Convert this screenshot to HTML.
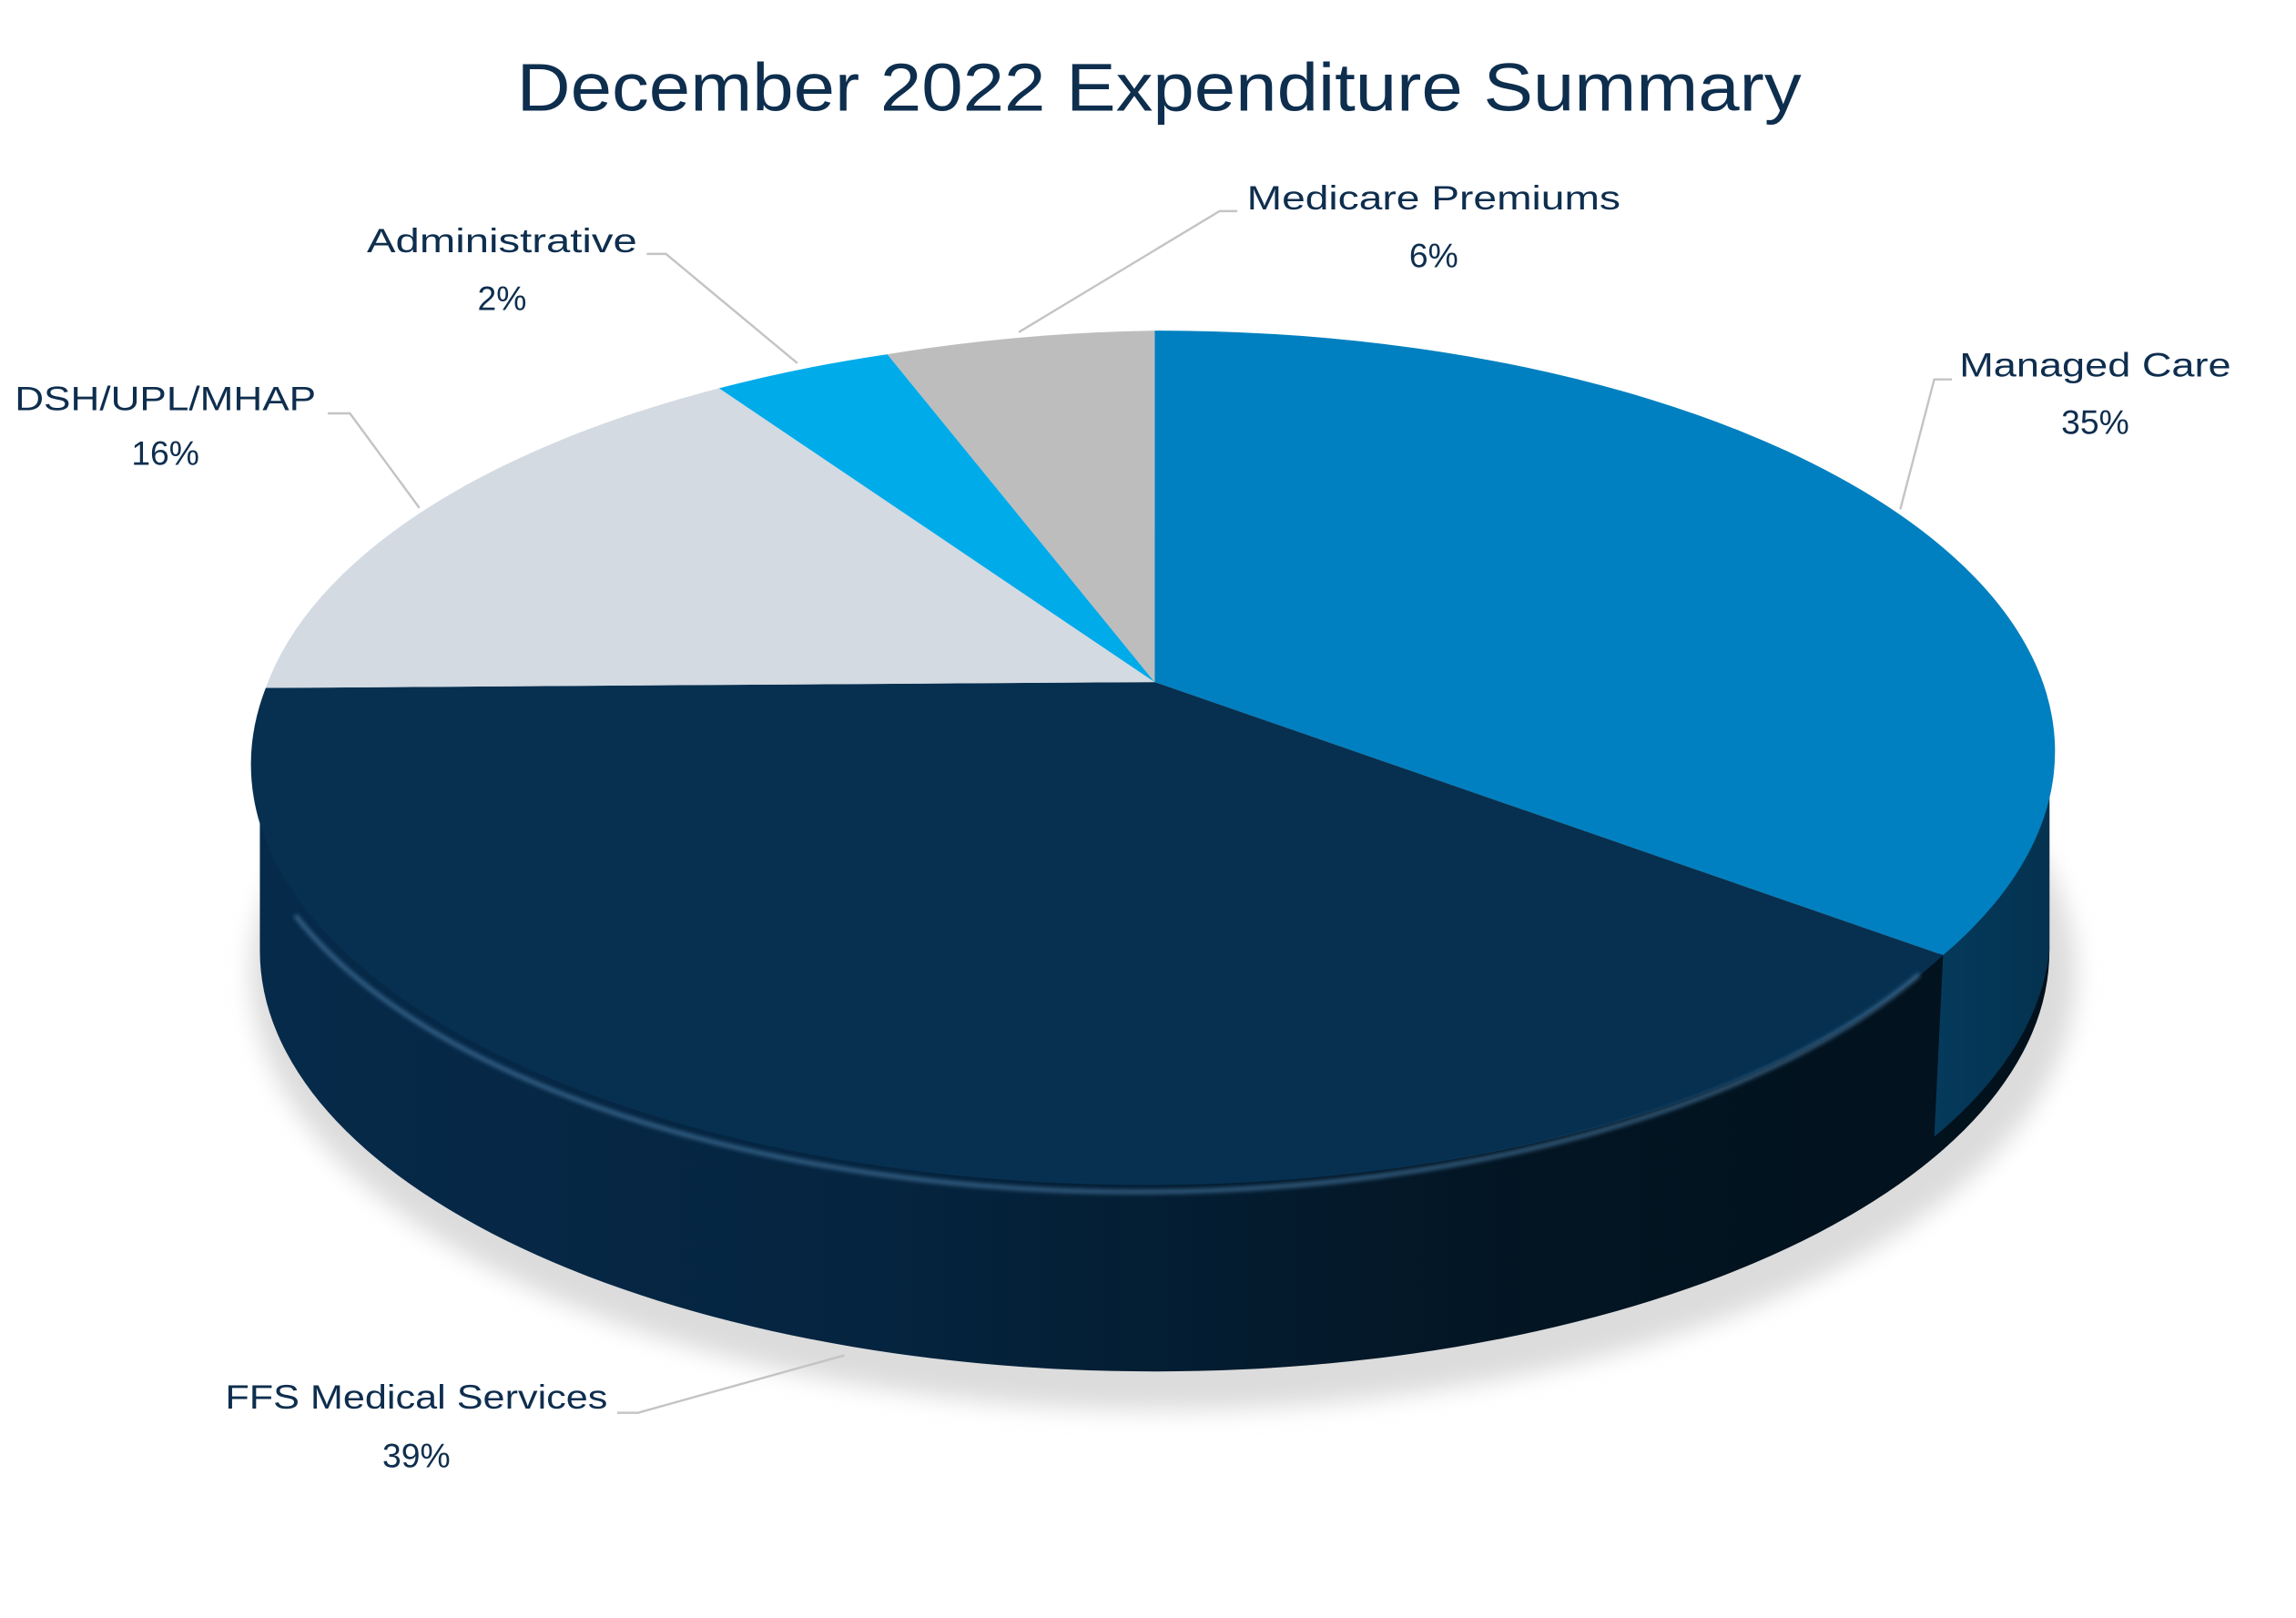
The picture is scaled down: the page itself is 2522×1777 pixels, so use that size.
<!DOCTYPE html>
<html><head><meta charset="utf-8"><style>html,body{margin:0;padding:0;background:#fff}svg{display:block}</style></head>
<body>
<svg width="2522" height="1777" viewBox="0 0 1555 1096" preserveAspectRatio="none" xmlns="http://www.w3.org/2000/svg">
<defs>
<linearGradient id="side" x1="0" y1="0" x2="1" y2="0">
<stop offset="0" stop-color="#062a4a"/><stop offset="0.35" stop-color="#05243f"/><stop offset="0.7" stop-color="#031523"/><stop offset="1" stop-color="#02111c"/>
</linearGradient>
<linearGradient id="side2" x1="0" y1="0" x2="1" y2="0">
<stop offset="0" stop-color="#053a5c"/><stop offset="1" stop-color="#04324f"/>
</linearGradient>
<filter id="bl"><feGaussianBlur stdDeviation="8"/></filter>
<filter id="bl2"><feGaussianBlur stdDeviation="1.5"/></filter>
</defs>
<ellipse cx="788" cy="660" rx="618" ry="295" fill="#dcdcdc" filter="url(#bl)"/>
<!-- side -->
<path d="M176,509 L176,644 A606 285 0 0 0 1388,644 L1388,509 A606 285 0 0 1 176,509 Z" fill="url(#side)"/>
<path d="M1316,647 L1310,770 A606 285 0 0 0 1388,644 L1388,509 A606 285 0 0 1 1316,647 Z" fill="url(#side2)"/>
<!-- top slices -->
<path d="M782,462 L782,224 A606 285 0 0 1 1316,647 Z" fill="#0080c0"/>
<path d="M782,462 L1316,647 A606 285 0 0 1 180,466 Z" fill="#073050"/>
<path d="M782,462 L180,466 A606 285 0 0 1 487,263 Z" fill="#d3dae2"/>
<path d="M782,462 L487,263 A606 285 0 0 1 601,240 Z" fill="#00abea"/>
<path d="M782,462 L601,240 A606 285 0 0 1 782,224 Z" fill="#bdbdbd"/>
<path d="M200,620 A606 285 0 0 0 1300,660" fill="none" stroke="#4a7aa3" stroke-width="3" opacity="0.7" filter="url(#bl2)"/>
<!-- leader lines -->
<g fill="none" stroke="#c4c4c4" stroke-width="1.5">
<polyline points="690,225 826,143 838,143"/>
<polyline points="540,246 451,172 438,172"/>
<polyline points="284,344 237,280 222,280"/>
<polyline points="1287,345 1310,257 1322,257"/>
<polyline points="572,918 432,957 418,957"/>
</g>
<g font-family="'Liberation Sans', sans-serif" fill="#0e2e4e">
<text x="785" y="75" font-size="46" text-anchor="middle" textLength="870" lengthAdjust="spacingAndGlyphs">December 2022 Expenditure Summary</text>
<g font-size="23" text-anchor="middle">
<text x="971" y="142" textLength="253" lengthAdjust="spacingAndGlyphs">Medicare Premiums</text>
<text x="971" y="181">6%</text>
<text x="340" y="171" textLength="183" lengthAdjust="spacingAndGlyphs">Administrative</text>
<text x="340" y="210">2%</text>
<text x="112" y="278" textLength="204" lengthAdjust="spacingAndGlyphs">DSH/UPL/MHAP</text>
<text x="112" y="315">16%</text>
<text x="1419" y="255" textLength="184" lengthAdjust="spacingAndGlyphs">Managed Care</text>
<text x="1419" y="294">35%</text>
<text x="282" y="954" textLength="259" lengthAdjust="spacingAndGlyphs">FFS Medical Services</text>
<text x="282" y="994">39%</text>
</g>
</g>
</svg>
</body></html>
